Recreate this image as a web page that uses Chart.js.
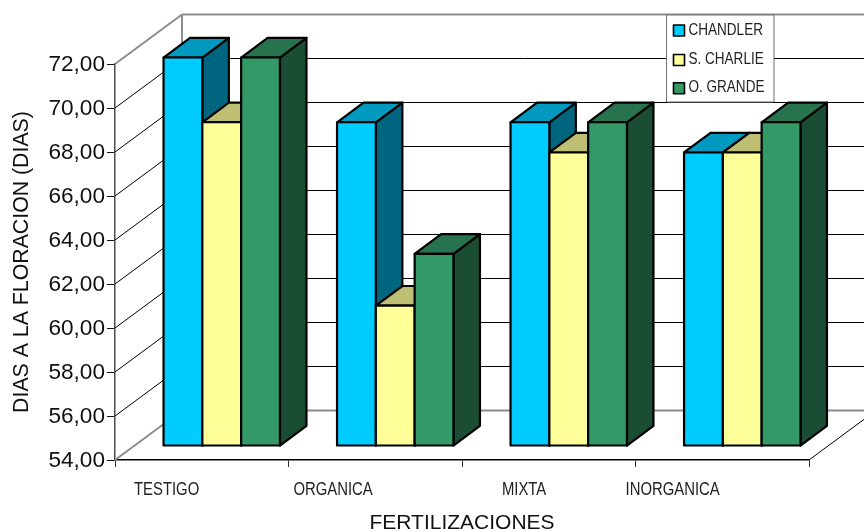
<!DOCTYPE html>
<html>
<head>
<meta charset="utf-8">
<script src="https://cdn.jsdelivr.net/npm/chart.js@4"></script>
<style>
html,body{margin:0;padding:0;background:#fff}
#wrap{width:864px;height:532px;position:relative;overflow:hidden}
</style>
</head>
<body>
<div id="wrap"><canvas id="c" width="864" height="532"></canvas></div>
<script>
const categories = ['TESTIGO', 'ORGANICA', 'MIXTA', 'INORGANICA'];
const seriesNames = ['CHANDLER', 'S. CHARLIE', 'O. GRANDE'];
const chandler = [72, 69, 69, 67.6];
const sCharlie = [69, 60.5, 67.6, 67.6];
const oGrande = [72, 62.9, 69, 69];
const frontColors = ['#00CCFF', '#FFFF99', '#339966'];
const topColors = ['#0099BF', '#BFBF73', '#26734D'];
const sideColors = ['#006680', '#BFBF73', '#1A4D33'];
const xTitle = 'FERTILIZACIONES';
const yTitle = 'DIAS A LA FLORACION (DIAS)';

const wallDX = 67, wallDY = -49.5;       // oblique projection of the chart box
const barDX = 20, barBase = 446, barScale = 0.981; // plane of the bars' front faces
const depthDX = 26.5, depthDY = -19.7;   // depth of a bar
const narrow = 0.85;                     // the reference's labels are horizontally condensed
const legendNarrow = 0.82;

function line(ctx, x1, y1, x2, y2, color, w) {
  ctx.beginPath(); ctx.moveTo(x1, y1); ctx.lineTo(x2, y2);
  ctx.strokeStyle = color; ctx.lineWidth = w; ctx.stroke();
}
function poly(ctx, pts, fill) {
  ctx.beginPath();
  pts.forEach((p, i) => i ? ctx.lineTo(p[0], p[1]) : ctx.moveTo(p[0], p[1]));
  ctx.closePath();
  ctx.fillStyle = fill; ctx.fill();
  ctx.strokeStyle = '#000'; ctx.lineWidth = 2.2; ctx.lineJoin = 'round'; ctx.stroke();
}
function narrowText(ctx, text, x, y, align, k) {
  ctx.save();
  ctx.translate(x, y);
  ctx.scale(k, 1);
  ctx.textAlign = align;
  ctx.textBaseline = 'middle';
  ctx.fillText(text, 0, 0);
  ctx.restore();
}

const box3d = {
  id: 'box3d',
  beforeDatasetsDraw(chart) {
    const ctx = chart.ctx, a = chart.chartArea, ys = chart.scales.y;
    ctx.save();
    ys.ticks.forEach(t => {
      const y = ys.getPixelForValue(t.value);
      const edge = t.value === ys.min || t.value === ys.max;
      const col = edge ? '#8c8c8c' : '#000';
      const w = edge ? 2 : 1;
      line(ctx, a.left, y, a.left + wallDX, y + wallDY, col, w);
      line(ctx, a.left + wallDX, y + wallDY, a.right + wallDX, y + wallDY, col, w);
    });
    line(ctx, a.left + wallDX, a.top + wallDY, a.left + wallDX, a.bottom + wallDY, '#8c8c8c', 2);
    line(ctx, a.right, a.bottom, a.right + wallDX, a.bottom + wallDY, '#000', 1);
    ctx.restore();
  },
  beforeDatasetDraw() { return false; },
  afterDatasetsDraw(chart) {
    const ctx = chart.ctx, a = chart.chartArea, xs = chart.scales.x;
    const my = y => barBase - (a.bottom - y) * barScale;
    const n = chart.data.labels.length;
    ctx.save();
    for (let i = 0; i < n; i++) {
      chart.data.datasets.forEach((ds, d) => {
        const el = chart.getDatasetMeta(d).data[i];
        const l = el.x - el.width / 2 + barDX, r = el.x + el.width / 2 + barDX;
        const t = my(el.y), b = my(el.base);
        poly(ctx, [[r, t], [r + depthDX, t + depthDY], [r + depthDX, b + depthDY], [r, b]], sideColors[d]);
        poly(ctx, [[l, t], [l + depthDX, t + depthDY], [r + depthDX, t + depthDY], [r, t]], topColors[d]);
        ctx.save();
        ctx.setTransform(1, 0, 0, barScale, barDX, barBase - a.bottom * barScale);
        el.draw(ctx);
        ctx.restore();
        ctx.strokeStyle = '#000'; ctx.lineWidth = 2.2;
        ctx.strokeRect(l, t, r - l, b - t);
      });
    }
    // category labels
    ctx.fillStyle = '#222';
    ctx.font = '17.5px "Liberation Sans"';
    categories.forEach((c, i) => narrowText(ctx, c, xs.getPixelForValue(i) - 2.5, 490.5, 'right', narrow));
    // legend
    const L = 666.5, T = 15, W = 107.5, H = 87;
    ctx.fillStyle = '#fff'; ctx.fillRect(L, T, W, H);
    ctx.strokeStyle = '#707070'; ctx.lineWidth = 1; ctx.strokeRect(L, T, W, H);
    const sy = [30.5, 60, 88.2];
    ctx.font = '16.5px "Liberation Sans"';
    chart.data.datasets.forEach((ds, d) => {
      ctx.fillStyle = frontColors[d];
      ctx.fillRect(673.5, sy[d] - 5.5, 11, 11);
      ctx.strokeStyle = '#000'; ctx.lineWidth = 1.6;
      ctx.strokeRect(673.5, sy[d] - 5.5, 11, 11);
      ctx.fillStyle = '#222';
      narrowText(ctx, ds.label, 688.5, sy[d] - 0.5, 'left', legendNarrow);
    });
    ctx.restore();
  }
};

new Chart(document.getElementById('c').getContext('2d'), {
  type: 'bar',
  data: {
    labels: categories,
    datasets: [chandler, sCharlie, oGrande].map((values, d) => ({
      label: seriesNames[d],
      data: values,
      base: 54,
      backgroundColor: frontColors[d],
      borderWidth: 0,
      categoryPercentage: 0.671,
      barPercentage: 1,
      clip: false
    }))
  },
  plugins: [box3d],
  options: {
    responsive: false,
    animation: false,
    layout: { padding: { left: 0, right: 55, top: 64, bottom: 0 } },
    plugins: { legend: { display: false }, tooltip: { enabled: false }, title: { display: false } },
    scales: {
      x: {
        afterFit(s) { s.height = 72; },
        border: { color: '#000', width: 1.5 },
        grid: { drawOnChartArea: false, drawTicks: true, tickLength: 7, color: '#333', offset: true },
        ticks: { display: false },
        title: {
          display: true, text: xTitle, color: '#111',
          font: { family: '"Liberation Sans"', size: 21 }, padding: { top: 0, bottom: -4 }
        }
      },
      y: {
        min: 54, max: 72,
        afterFit(s) { s.width = 115; },
        border: { color: '#4d4d4d', width: 1.5 },
        grid: { drawOnChartArea: false, drawTicks: true, tickLength: 8, color: '#111' },
        ticks: {
          stepSize: 2, padding: 2, color: '#111', labelOffset: 1,
          font: { family: '"Liberation Sans"', size: 22.6 },
          callback: v => v.toFixed(2).replace('.', ',')
        },
        title: {
          display: true, text: yTitle, color: '#111',
          font: { family: '"Liberation Sans"', size: 21.3 }, padding: { top: 9, bottom: 0 }
        }
      }
    }
  }
});
</script>
</body>
</html>
